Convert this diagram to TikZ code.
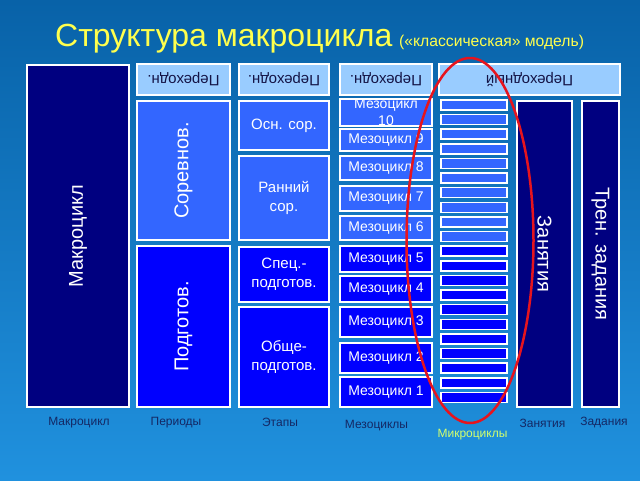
\documentclass[tikz,border=0pt]{standalone}
\usepackage{fontspec}
\setmainfont{Liberation Sans}
\usetikzlibrary{shapes.geometric}

\definecolor{bgtop}{RGB}{8,98,168}
\definecolor{bgbot}{RGB}{32,145,222}
\definecolor{navybox}{RGB}{0,0,128}
\definecolor{midbox}{RGB}{51,102,255}
\definecolor{deepbox}{RGB}{0,0,255}
\definecolor{palebox}{RGB}{153,204,255}
\definecolor{titleyel}{RGB}{255,255,77}
\definecolor{capcol}{RGB}{20,40,100}
\definecolor{microcol}{RGB}{210,255,110}
\definecolor{ringred}{RGB}{230,20,30}

\tikzset{
  blk/.style={draw=white, line width=1.5pt, inner sep=0pt, text=white, align=center,
    font=\fontsize{15}{19}\selectfont},
  bigblk/.style={blk, font=\fontsize{20}{24}\selectfont},
  trans/.style={blk, fill=palebox, text={rgb,255:red,20;green,20;blue,70}, rotate=180,
    minimum height=31, font=\fontsize{15}{17}\selectfont},
  mesoblk/.style={blk, minimum width=92, font=\fontsize{14}{16}\selectfont},
  microbar/.style={draw=white, line width=1.5pt, minimum width=66, minimum height=10, inner sep=0pt},
  caption/.style={text=capcol, inner sep=0pt, font=\fontsize{12}{14}\selectfont}
}

\begin{document}
\begin{tikzpicture}[x=1pt,y=-1pt]

\useasboundingbox (0,0) rectangle (640,480);
\shade[top color=bgtop, bottom color=bgbot] (0,0) rectangle (640,480);

\node (title) [anchor=base west, inner sep=0pt, text=titleyel, font=\fontsize{32}{36}\selectfont] at (55,46) {Структура макроцикла};
\node (subtitle) [anchor=base west, inner sep=0pt, text=titleyel, font=\fontsize{15.7}{18}\selectfont] at (399,46) {(«классическая» модель)};

\node (macro) [bigblk, fill=navybox, rotate=90, minimum width=342, minimum height=102] at (78,236) {Макроцикл};

\node (tr1) [trans, minimum width=93] at (183.5,79.5) {Переходн.};
\node (comp) [bigblk, fill=midbox, rotate=90, minimum width=139, minimum height=93] at (183.5,170.5) {Соревнов.};
\node (prep) [bigblk, fill=deepbox, rotate=90, minimum width=161, minimum height=93] at (183.5,326.5) {Подготов.};

\node (tr2) [trans, minimum width=90] at (284,79.5) {Переходн.};
\node (mainc) [blk, fill=midbox, minimum width=90, minimum height=49] at (284,125.5) {Осн. сор.};
\node (early) [blk, fill=midbox, minimum width=90, minimum height=84] at (284,198) {Ранний\\сор.};
\node (spec) [blk, fill=deepbox, minimum width=90, minimum height=55] at (284,274.5) {Спец.-\\подготов.};
\node (gen) [blk, fill=deepbox, minimum width=90, minimum height=100] at (284,357) {Обще-\\подготов.};

\node (tr3) [trans, minimum width=92] at (386,79.5) {Переходн.};
\node (meso10) [mesoblk, fill=midbox, minimum height=23, font=\fontsize{14}{17}\selectfont] at (386,112.5) {Мезоцикл\\10};
\foreach \n/\ya/\yb/\c in {9/129/151/midbox, 8/156/180/midbox, 7/186/211/midbox, 6/216/240/midbox,
    5/246/272/deepbox, 4/276/302/deepbox, 3/307/337/deepbox, 2/343/373/deepbox, 1/377/407/deepbox}
{
  \pgfmathsetmacro{\hh}{\yb-\ya}
  \pgfmathsetmacro{\ym}{(\ya+\yb)/2}
  \node (meso\n) [mesoblk, fill=\c, minimum height=\hh] at (386,\ym) {Мезоцикл \n};
}

\node (tr4) [trans, minimum width=181] at (529.5,79.5) {Переходный};
\foreach \i in {1,...,21}
{
  \pgfmathsetmacro{\ym}{105+(\i-1)*14.62}
  \ifnum\i<11
    \node (micro\i) [microbar, fill=midbox] at (474,\ym) {};
  \else
    \node (micro\i) [microbar, fill=deepbox] at (474,\ym) {};
  \fi
}

\node (lesson) [bigblk, fill=navybox, rotate=-90, minimum width=306, minimum height=55] at (544.5,254) {Занятия};
\node (task) [bigblk, fill=navybox, rotate=-90, minimum width=306, minimum height=37] at (600.5,254) {Трен. задания};

\node (ring) [draw=ringred, line width=2.5pt, ellipse, minimum width=127, minimum height=365, inner sep=0pt] at (470,240.5) {};

\node (c1) [caption] at (79,423) {Макроцикл};
\node (c2) [caption] at (176,423) {Периоды};
\node (c3) [caption] at (280,422) {Этапы};
\node (c4) [caption] at (376.5,426) {Мезоциклы};
\node (c5) [caption, text=microcol] at (472.5,435) {Микроциклы};
\node (c6) [caption] at (542.5,423) {Занятия};
\node (c7) [caption] at (604,423) {Задания};

\end{tikzpicture}
\end{document}
